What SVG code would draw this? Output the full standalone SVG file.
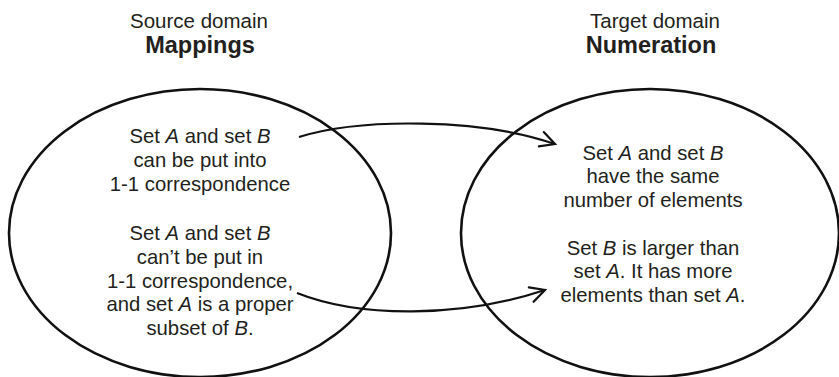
<svg xmlns="http://www.w3.org/2000/svg" width="839" height="377" viewBox="0 0 839 377">
  <defs>
    <style>
      .domain { fill: #ffffff; stroke: #111111; stroke-width: 2.6; }
      .label { font-family: "Liberation Sans", Arial, Helvetica, sans-serif; fill: #231f20; text-anchor: middle; }
      .caption { font-size: 20.5px; }
      .title { font-size: 23.5px; font-weight: bold; }
      .body { font-size: 20.3px; }
      .link { fill: none; stroke: #111111; stroke-width: 2.2; }
      .head { fill: none; stroke: #111111; stroke-width: 2.2; stroke-linecap: round; stroke-linejoin: miter; }
    </style>
    <marker id="chevron" markerUnits="userSpaceOnUse" viewBox="-17 -10 20 20" refX="0" refY="0" markerWidth="20" markerHeight="20" orient="auto" overflow="visible">
      <path class="head" d="M-14.5,-7.6 L0,0 L-14.5,7.6"/>
    </marker>
  </defs>

  <!-- Source domain -->
  <g id="source">
    <ellipse class="domain" cx="200" cy="233" rx="191" ry="144"/>
    <text class="label caption" x="199" y="28">Source domain</text>
    <text class="label title" x="200" y="53">Mappings</text>
    <text class="label body" x="200" y="143">Set <tspan font-style="italic">A</tspan> and set <tspan font-style="italic">B</tspan></text>
    <text class="label body" x="200" y="167">can be put into</text>
    <text class="label body" x="200" y="191">1-1 correspondence</text>
    <text class="label body" x="200" y="240">Set <tspan font-style="italic">A</tspan> and set <tspan font-style="italic">B</tspan></text>
    <text class="label body" x="200" y="264">can’t be put in</text>
    <text class="label body" x="200" y="288">1-1 correspondence,</text>
    <text class="label body" x="200" y="311">and set <tspan font-style="italic">A</tspan> is a proper</text>
    <text class="label body" x="200" y="335">subset of <tspan font-style="italic">B</tspan>.</text>
  </g>

  <!-- Target domain -->
  <g id="target">
    <ellipse class="domain" cx="650" cy="233" rx="189" ry="144"/>
    <text class="label caption" x="655" y="28">Target domain</text>
    <text class="label title" x="651" y="53">Numeration</text>
    <text class="label body" x="653" y="160">Set <tspan font-style="italic">A</tspan> and set <tspan font-style="italic">B</tspan></text>
    <text class="label body" x="653" y="183">have the same</text>
    <text class="label body" x="653" y="207">number of elements</text>
    <text class="label body" x="653" y="255">Set <tspan font-style="italic">B</tspan> is larger than</text>
    <text class="label body" x="653" y="278">set <tspan font-style="italic">A</tspan>. It has more</text>
    <text class="label body" x="653" y="302">elements than set <tspan font-style="italic">A</tspan>.</text>
  </g>

  <!-- Mapping arrows -->
  <g id="connectors">
    <path class="link" d="M299,137 C360,118 480,118 555,144" marker-end="url(#chevron)"/>
    <path class="link" d="M297,293 C360,318 460,318 545,290" marker-end="url(#chevron)"/>
  </g>
</svg>
